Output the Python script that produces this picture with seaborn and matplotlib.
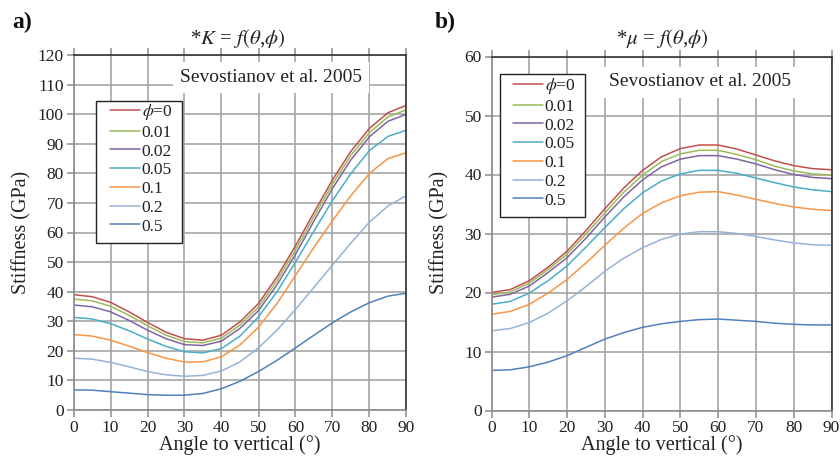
import numpy as np
import pandas as pd
import matplotlib
matplotlib.use("Agg")
import matplotlib.pyplot as plt
from matplotlib.patches import Rectangle
import seaborn as sns

# Angle to vertical (degrees), sampled every 5 degrees
angle = [0, 5, 10, 15, 20, 25, 30, 35, 40, 45, 50, 55, 60, 65, 70, 75, 80, 85, 90]

# Porosity values and their legend labels
phi_values = ["0", "0.01", "0.02", "0.05", "0.1", "0.2", "0.5"]
phi_labels = [r"$\phi$=0", "0.01", "0.02", "0.05", "0.1", "0.2", "0.5"]
colors = ["#C0504D", "#9BBB59", "#8064A2", "#4BACC6", "#F79646", "#95B3D7", "#4F81BD"]

# Bulk modulus K (GPa)
K_phi_0    = [39.0, 38.3, 36.4, 33.2, 29.6, 26.3, 24.1, 23.6, 25.3, 29.8, 36.0, 45.0, 55.5, 66.8, 77.8, 87.5, 95.2, 100.5, 103.0]
K_phi_001  = [37.5, 36.9, 35.1, 32.0, 28.5, 25.3, 23.1, 22.7, 24.3, 28.7, 34.8, 43.7, 54.1, 65.4, 76.4, 86.1, 93.8, 99.1, 101.5]
K_phi_002  = [35.5, 34.9, 33.2, 30.3, 27.0, 24.1, 22.1, 21.8, 23.3, 27.6, 33.6, 42.3, 52.6, 63.9, 74.9, 84.6, 92.4, 97.6, 100.0]
K_phi_005  = [31.3, 30.8, 29.2, 26.8, 24.0, 21.5, 19.7, 19.3, 20.8, 25.0, 31.5, 40.0, 50.0, 60.5, 70.8, 80.0, 87.7, 92.5, 94.6]
K_phi_01   = [25.5, 25.0, 23.6, 21.6, 19.4, 17.5, 16.2, 16.3, 18.0, 22.0, 28.0, 36.0, 45.5, 55.0, 64.0, 72.5, 80.0, 85.0, 87.0]
K_phi_02   = [17.5, 17.2, 16.1, 14.6, 13.0, 11.9, 11.4, 11.7, 13.2, 16.3, 21.0, 27.0, 34.0, 41.5, 49.0, 56.5, 63.5, 69.0, 72.5]
K_phi_05   = [6.8, 6.7, 6.2, 5.7, 5.2, 5.0, 5.0, 5.6, 7.2, 9.7, 13.0, 16.8, 21.0, 25.3, 29.5, 33.2, 36.3, 38.5, 39.5]

# Shear modulus mu (GPa)
mu_phi_0   = [20.0, 20.5, 22.0, 24.3, 27.0, 30.5, 34.2, 37.7, 40.7, 43.0, 44.4, 45.0, 45.0, 44.3, 43.3, 42.3, 41.5, 41.0, 40.8]
mu_phi_001 = [19.6, 20.1, 21.6, 23.9, 26.5, 29.9, 33.5, 37.0, 39.9, 42.2, 43.5, 44.1, 44.1, 43.4, 42.5, 41.4, 40.6, 40.1, 39.9]
mu_phi_002 = [19.2, 19.7, 21.1, 23.4, 25.9, 29.2, 32.8, 36.2, 39.1, 41.3, 42.6, 43.2, 43.2, 42.6, 41.8, 40.8, 40.0, 39.5, 39.3]
mu_phi_005 = [18.0, 18.5, 19.9, 22.0, 24.5, 27.7, 31.0, 34.2, 36.9, 38.9, 40.1, 40.7, 40.7, 40.2, 39.4, 38.6, 37.9, 37.4, 37.1]
mu_phi_01  = [16.3, 16.8, 18.0, 19.9, 22.2, 25.0, 28.0, 30.9, 33.4, 35.2, 36.4, 37.0, 37.1, 36.5, 35.8, 35.1, 34.5, 34.1, 33.9]
mu_phi_02  = [13.5, 13.9, 14.9, 16.5, 18.6, 21.0, 23.6, 25.8, 27.6, 29.0, 29.9, 30.3, 30.3, 30.0, 29.5, 28.9, 28.4, 28.1, 28.0]
mu_phi_05  = [6.8, 6.9, 7.4, 8.2, 9.3, 10.7, 12.1, 13.2, 14.1, 14.7, 15.1, 15.4, 15.5, 15.3, 15.1, 14.8, 14.6, 14.5, 14.5]

K_series = [K_phi_0, K_phi_001, K_phi_002, K_phi_005, K_phi_01, K_phi_02, K_phi_05]
mu_series = [mu_phi_0, mu_phi_001, mu_phi_002, mu_phi_005, mu_phi_01, mu_phi_02, mu_phi_05]

W, H = 840, 462


def long_table(series):
    rows = []
    for phi, vals in zip(phi_values, series):
        for a, v in zip(angle, vals):
            rows.append({"angle": a, "stiffness": v, "phi": phi})
    return pd.DataFrame(rows)


sns.set_theme(style="white")
plt.rcParams["font.family"] = ["Liberation Serif", "DejaVu Serif"]
plt.rcParams["mathtext.fontset"] = "stix"

fig = plt.figure(figsize=(W / 100, H / 100), dpi=100)
# axes boxes given as pixel extents (left, top, right, bottom)
k_box = (73.5, 55, 406.5, 410)
m_box = (491.5, 56.5, 831.5, 410.5)


def add_axes_px(box):
    l, t, r, b = box
    return fig.add_axes([l / W, 1 - b / H, (r - l) / W, (b - t) / H])


ax_k = add_axes_px(k_box)
ax_m = add_axes_px(m_box)

palette = dict(zip(phi_values, colors))
grid_col = "#a6a6a6"


def style_axes(ax, ymax):
    ax.set_xlim(0, 90)
    ax.set_ylim(0, ymax)
    ax.set_xticks(np.arange(0, 91, 10))
    ax.set_yticks(np.arange(0, ymax + 1, 10))
    ax.grid(True, color=grid_col, linewidth=1.2)
    ax.set_axisbelow(True)
    for side in ["left", "bottom"]:
        ax.spines[side].set_color("#8c8c8c")
        ax.spines[side].set_linewidth(1.2)
    for side in ["top", "right"]:
        ax.spines[side].set_color("#333333")
        ax.spines[side].set_linewidth(1.2)
    ax.tick_params(axis="both", which="major", direction="out", length=5,
                   width=1.1, color="#8c8c8c", labelsize=12.5, pad=2,
                   labelcolor="#222222")
    ax.tick_params(axis="x", top=True, labeltop=False, bottom=True)
    ax.tick_params(axis="y", left=True)
    ax.set_xlabel("")
    ax.set_ylabel("")


def px_to_axes(box, x, y):
    l, t, r, b = box
    return (x - l) / (r - l), (b - y) / (b - t)


def draw(ax, box, series, ymax, frame_px, handle_px, note_px):
    df = long_table(series)
    sns.lineplot(data=df, x="angle", y="stiffness", hue="phi",
                 hue_order=phi_values, palette=palette, linewidth=1.1,
                 ax=ax, legend=False)
    style_axes(ax, ymax)

    # legend frame: white box with dark outline
    fx0, fy0, fx1, fy1 = frame_px
    ax0, ay1 = px_to_axes(box, fx0, fy0)
    ax1, ay0 = px_to_axes(box, fx1, fy1)
    ax.add_patch(Rectangle((ax0, ay0), ax1 - ax0, ay1 - ay0,
                           transform=ax.transAxes, facecolor="white",
                           edgecolor="#222222", linewidth=1.0, zorder=4.5))

    handles = [plt.Line2D([], [], color=c, linewidth=1.1) for c in colors]
    leg = ax.legend(handles, phi_labels, loc="upper left",
                    bbox_to_anchor=px_to_axes(box, *handle_px), frameon=False,
                    fontsize=12.5, handlelength=1.7, handletextpad=0.12,
                    labelspacing=0.15, borderpad=0.0, borderaxespad=0.0)
    leg.set_zorder(5)
    for t in leg.get_texts():
        t.set_color("#222222")

    nx, ny = px_to_axes(box, *note_px)
    ax.text(nx, ny, "Sevostianov et al. 2005",
            transform=ax.transAxes, ha="center", va="center", fontsize=14,
            color="#222222", zorder=6,
            bbox=dict(facecolor="white", edgecolor="none", pad=5))


draw(ax_k, k_box, K_series, 120, (96, 101, 182, 243), (110, 102), (271, 77))
draw(ax_m, m_box, mu_series, 60, (500, 74, 585, 217), (513, 76), (700, 82))

# Panel letters and titles
fig.text(12 / W, 1 - 22 / H, "a)", fontsize=17, fontweight="bold",
         ha="left", va="center", color="#111111")
fig.text(435 / W, 1 - 22 / H, "b)", fontsize=17, fontweight="bold",
         ha="left", va="center", color="#111111")
fig.text(238 / W, 1 - 38 / H, r"*$K$ = $f(\theta$,$\phi)$", fontsize=15,
         ha="center", va="center", color="#222222")
fig.text(662 / W, 1 - 38 / H, r"*$\mu$ = $f(\theta$,$\phi)$", fontsize=15,
         ha="center", va="center", color="#222222")

# Axis labels
for cx in (240, 662):
    fig.text(cx / W, 1 - 450 / H, "Angle to vertical (°)", fontsize=14.5,
             ha="center", va="baseline", color="#222222")
fig.text(22 / W, 1 - 232 / H, "Stiffness (GPa)", fontsize=14.5,
         rotation=90, ha="center", va="center", color="#222222")
fig.text(440 / W, 1 - 232 / H, "Stiffness (GPa)", fontsize=14.5,
         rotation=90, ha="center", va="center", color="#222222")

fig.savefig("out.png", dpi=100)
